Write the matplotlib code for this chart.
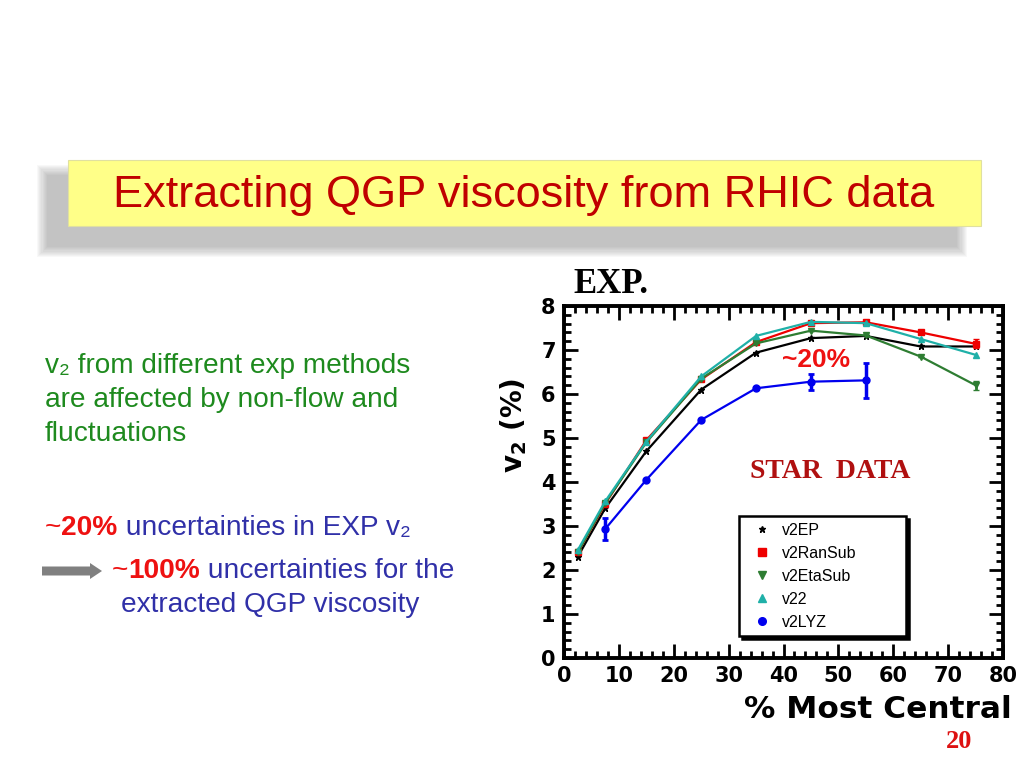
import matplotlib.pyplot as plt
from matplotlib.lines import Line2D
from matplotlib.patches import Rectangle, FancyArrow
from matplotlib.ticker import MultipleLocator

# centrality bins (% most central)
cent_ep = [2.5, 7.5, 15, 25, 35, 45, 55, 65, 75]
v2_ep = [2.3, 3.4, 4.7, 6.1, 6.94, 7.27, 7.32, 7.08, 7.08]

cent_ransub = [2.5, 7.5, 15, 25, 35, 45, 55, 65, 75]
v2_ransub = [2.4, 3.5, 4.95, 6.33, 7.18, 7.61, 7.63, 7.40, 7.14]
err_ransub = [0.0, 0.0, 0.0, 0.0, 0.0, 0.0, 0.0, 0.0, 0.1]

cent_etasub = [2.5, 7.5, 15, 25, 35, 45, 55, 65, 75]
v2_etasub = [2.4, 3.52, 4.9, 6.35, 7.15, 7.44, 7.33, 6.85, 6.2]
err_etasub = [0.0, 0.0, 0.0, 0.0, 0.0, 0.0, 0.0, 0.0, 0.1]

cent_v22 = [2.5, 7.5, 15, 25, 35, 45, 55, 65, 75]
v2_v22 = [2.45, 3.56, 4.92, 6.4, 7.32, 7.64, 7.61, 7.25, 6.89]

cent_lyz = [7.5, 15, 25, 35, 45, 55]
v2_lyz = [2.93, 4.05, 5.41, 6.13, 6.28, 6.31]
err_lyz = [0.25, 0.0, 0.0, 0.0, 0.18, 0.39]

W, H = 1024, 768


def fx(x):
    return x / W


def fy(y):
    return 1 - y / H


def put_runs(fig, x, y, runs, size, family):
    # draw text pieces one after another on the same baseline
    renderer = fig.canvas.get_renderer()
    cur = fx(x)
    for txt, color, weight in runs:
        t = fig.text(cur, fy(y), txt, color=color, fontsize=size, fontweight=weight,
                     family=family, va="baseline", ha="left")
        bb = t.get_window_extent(renderer=renderer)
        cur = bb.x1 / fig.bbox.width


fig = plt.figure(figsize=(10.24, 7.68), dpi=100)
fig.patch.set_facecolor("white")

sans = ["Liberation Sans", "DejaVu Sans"]
heavy = ["DejaVu Sans"]
serif = ["Liberation Serif", "DejaVu Serif"]

# title box with a soft shadow
for i in range(10):
    grow = (10 - i) * 2.2
    fig.patches.append(Rectangle((fx(48 - grow / 2), fy(246 + grow / 2)),
                                 (908 + grow) / W, (70 + grow) / H,
                                 transform=fig.transFigure, facecolor="#606060",
                                 edgecolor="none", alpha=0.045, zorder=0))
fig.patches.append(Rectangle((fx(68), fy(226)), 913 / W, 66 / H, transform=fig.transFigure,
                             facecolor="#FFFF88", edgecolor="#E0E0A0", lw=0.8, zorder=1))
fig.text(fx(524), fy(195), "Extracting QGP viscosity from RHIC data", color="#C00000",
         fontsize=32.5, family=sans, ha="center", va="center", zorder=2)

# left side text
green = "#1E8A1E"
blue = "#3030A8"
red = "#EE1111"
fs = 20.2
put_runs(fig, 45, 373, [("v", green, "normal"), ("\u2082", green, "normal"),
                        (" from different exp methods", green, "normal")], fs, sans)
put_runs(fig, 45, 407, [("are affected by non-flow and", green, "normal")], fs, sans)
put_runs(fig, 45, 441, [("fluctuations", green, "normal")], fs, sans)
put_runs(fig, 45, 535, [("~", red, "normal"), ("20%", red, "bold"),
                        (" uncertainties in EXP ", blue, "normal"),
                        ("v", blue, "normal"), ("\u2082", blue, "normal")], fs, sans)
put_runs(fig, 112, 578, [("~", red, "normal"), ("100%", red, "bold"),
                         (" uncertainties for the", blue, "normal")], fs, sans)
put_runs(fig, 121, 612, [("extracted QGP viscosity", blue, "normal")], fs, sans)

fig.patches.append(FancyArrow(fx(42), fy(571), 48 / W, 0, width=9 / H, head_width=16 / H,
                              head_length=12 / W, length_includes_head=False,
                              transform=fig.transFigure, color="#808080", lw=0))

fig.text(fx(573), fy(293), "EXP.", fontsize=25, fontweight="bold", family=serif,
         ha="left", va="baseline")
fig.text(fx(972), fy(748), "20", fontsize=19, fontweight="bold", family=serif,
         color="#DD1111", ha="right", va="baseline")

# the chart
ax = fig.add_axes([fx(564), fy(658), 439 / W, 352 / H])

ax.plot(cent_ep, v2_ep, color="black", lw=1.6, marker="*", ms=5, zorder=3)
ax.errorbar(cent_ransub, v2_ransub, yerr=err_ransub, color="#EE0000", lw=1.6,
            marker="s", ms=5, capsize=2, elinewidth=2, zorder=3)
ax.errorbar(cent_etasub, v2_etasub, yerr=err_etasub, color="#2E7D32", lw=1.6,
            marker="v", ms=5, capsize=2, elinewidth=2, zorder=4)
ax.plot(cent_v22, v2_v22, color="#1FB0A8", lw=1.6, marker="^", ms=5, zorder=5)
ax.errorbar(cent_lyz, v2_lyz, yerr=err_lyz, color="#0000EE", lw=1.6, marker="o", ms=5,
            capsize=2.5, elinewidth=2.5, capthick=2, zorder=3)

ax.set_xlim(0, 80)
ax.set_ylim(0, 8)
ax.xaxis.set_major_locator(MultipleLocator(10))
ax.xaxis.set_minor_locator(MultipleLocator(2))
ax.yaxis.set_major_locator(MultipleLocator(1))
ax.yaxis.set_minor_locator(MultipleLocator(0.2))
ax.tick_params(which="both", direction="in", top=True, right=True, width=2, color="black")
ax.tick_params(which="major", length=10, pad=6)
ax.tick_params(which="minor", length=5)
for spine in ax.spines.values():
    spine.set_linewidth(2.8)
for lab in ax.get_xticklabels() + ax.get_yticklabels():
    lab.set_fontweight("bold")
    lab.set_fontsize(15)
    lab.set_family(heavy)

ax.set_xlabel("% Most Central", fontsize=22.5, fontweight="bold", family=heavy, ha="right",
              x=1.02, labelpad=6)
ax.set_ylabel("v$_\\mathbf{2}$ (%)", fontsize=20, fontweight="bold", family=heavy,
              labelpad=9, y=0.66)

ax.text(46, 6.62, "~20%", color="#EE1111", fontsize=19, fontweight="bold", family=sans,
        ha="center", va="baseline")
ax.text(48.5, 4.1, "STAR  DATA", color="#B01010", fontsize=20, fontweight="bold", family=serif,
        ha="center", va="baseline")

handles = [
    Line2D([], [], ls="none", marker="*", color="black", ms=5),
    Line2D([], [], ls="none", marker="s", color="#EE0000", ms=5.5),
    Line2D([], [], ls="none", marker="v", color="#2E7D32", ms=5.5),
    Line2D([], [], ls="none", marker="^", color="#1FB0A8", ms=5.5),
    Line2D([], [], ls="none", marker="o", color="#0000EE", ms=5.5),
]
labels = ["v2EP", "v2RanSub", "v2EtaSub", "v22", "v2LYZ"]
leg = ax.legend(handles, labels, loc="lower left", bbox_to_anchor=(0.399, 0.0625, 0.38, 0.34),
                mode="expand", fancybox=False, edgecolor="black", framealpha=1,
                prop={"family": sans, "size": 11.5}, handlelength=2.0, handletextpad=0.3,
                labelspacing=0.5, borderpad=0.4, borderaxespad=0,
                shadow={"color": "black", "alpha": 1})
leg.get_frame().set_linewidth(1.8)

fig.savefig("out.png", dpi=100)
